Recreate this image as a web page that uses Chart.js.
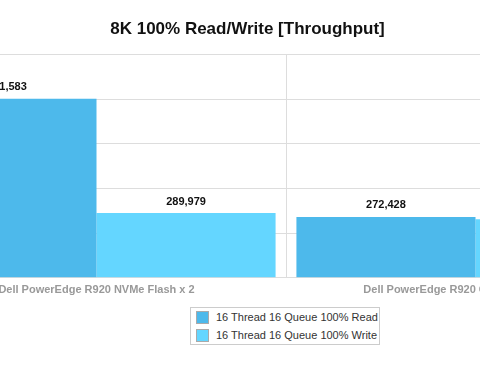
<!DOCTYPE html>
<html>
<head>
<meta charset="utf-8">
<script src="https://cdn.jsdelivr.net/npm/chart.js@4/dist/chart.umd.min.js"></script>
<style>
  html, body { margin: 0; padding: 0; width: 480px; height: 375px; overflow: hidden; background: #fff; }
  #wrap { position: absolute; left: -170px; top: 0; width: 835px; height: 307px; }
  #legend { position: absolute; left: 190px; top: 307px; width: 188px; border: 1px solid #ccc;
            font: 11px "Liberation Sans", Arial, sans-serif; color: #333; padding: 0; }
  #legend .item { display: flex; align-items: center; height: 18px; padding-left: 5px; }
  #legend .sw { width: 11px; height: 11px; border: 1px solid #aaa; margin-right: 7px; }
</style>
</head>
<body>
<div id="wrap"><canvas id="chart"></canvas></div>
<div id="legend"></div>
<script>
// data
const categories = ['Dell PowerEdge R920 NVMe Flash x 2', 'Dell PowerEdge R920 Competitor Flash x 2'];
const seriesNames = ['16 Thread 16 Queue 100% Read', '16 Thread 16 Queue 100% Write'];
const readValues = [801583, 272428];
const writeValues = [289979, 262000];
const yTicks = [0, 200000, 400000, 600000, 800000, 1000000];

const colors = ['#4db9eb', '#64d6ff'];

// draws the numbers above each bar
const valueLabels = {
    id: 'valueLabels',
    afterDatasetsDraw(chart) {
        const ctx = chart.ctx;
        ctx.save();
        ctx.font = 'bold 11px "Liberation Sans", Arial, sans-serif';
        ctx.fillStyle = '#111';
        ctx.textAlign = 'center';
        ctx.textBaseline = 'bottom';
        chart.data.datasets.forEach((ds, i) => {
            chart.getDatasetMeta(i).data.forEach((bar, j) => {
                ctx.fillText(ds.data[j].toLocaleString('en-US'), bar.x, bar.y - 6);
            });
        });
        ctx.restore();
    }
};

let chart = new Chart(document.getElementById('chart'), {
    type: 'bar',
    data: {
        labels: categories,
        datasets: [{
            label: seriesNames[0],
            data: readValues,
            backgroundColor: colors[0],
        }, {
            label: seriesNames[1],
            data: writeValues,
            backgroundColor: colors[1],
        }],
    },
    options: {
        responsive: true,
        maintainAspectRatio: false,
        animation: false,
        layout: { padding: { left: 0, right: 0, top: 0, bottom: 4 } },
        datasets: { bar: { barPercentage: 1, categoryPercentage: 0.945 } },
        plugins: {
            legend: { display: false },
            tooltip: { enabled: false },
            title: {
                display: true,
                text: '8K 100% Read/Write [Throughput]',
                color: '#111',
                font: { family: '"Liberation Sans", Arial, sans-serif', size: 17, weight: 'bold' },
                padding: { top: 19, bottom: 15 },
            },
        },
        scales: {
            x: {
                grid: { color: '#ddd', drawTicks: false },
                border: { display: false },
                ticks: {
                    color: '#999',
                    padding: 6,
                    font: { family: '"Liberation Sans", Arial, sans-serif', size: 11, weight: 'bold' },
                },
            },
            y: {
                min: 0,
                max: 1000000,
                afterBuildTicks: (s) => { s.ticks = yTicks.map(v => ({ value: v })); },
                afterFit: (s) => { s.width = 77; },
                grid: { color: '#ddd', drawTicks: false },
                border: { display: false },
                ticks: { display: false },
            },
        },
    },
    plugins: [valueLabels],
});

// legend box built from the datasets
let legend = document.getElementById('legend');
chart.data.datasets.forEach((ds) => {
    let item = document.createElement('div');
    item.className = 'item';
    let sw = document.createElement('span');
    sw.className = 'sw';
    sw.style.background = ds.backgroundColor;
    item.appendChild(sw);
    item.appendChild(document.createTextNode(ds.label));
    legend.appendChild(item);
});
</script>
</body>
</html>
